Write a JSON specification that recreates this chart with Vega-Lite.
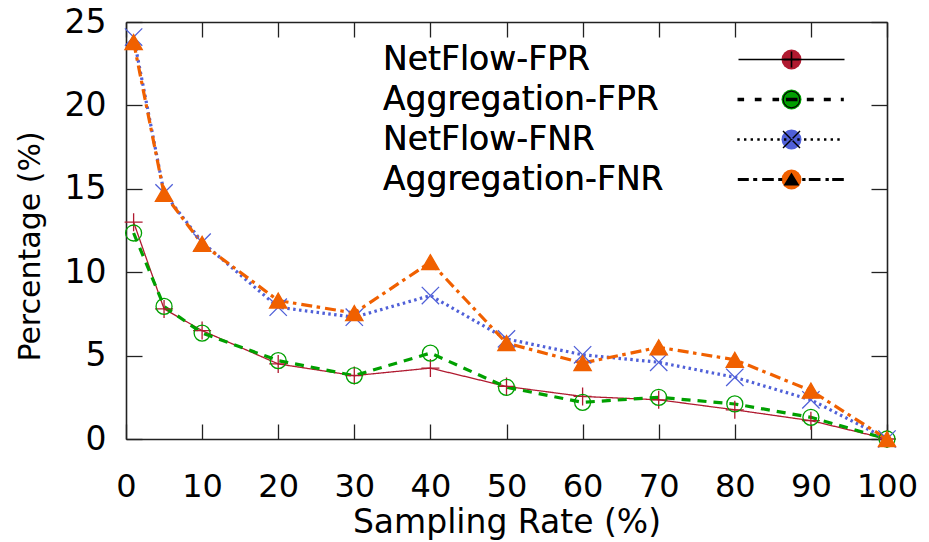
{
  "$schema": "https://vega.github.io/schema/vega-lite/v6.json",
  "width": 761,
  "height": 417,
  "autosize": {"type": "none"},
  "padding": {"left": 126, "top": 22, "right": 42, "bottom": 103},
  "background": "white",
  "config": {
    "view": {"stroke": null},
    "font": "DejaVu Sans",
    "axis": {
      "grid": false,
      "domainColor": "#222222",
      "domainWidth": 1.6,
      "tickColor": "#222222",
      "tickWidth": 1.3,
      "labelFont": "DejaVu Sans",
      "labelFontSize": 32,
      "labelColor": "#000000",
      "titleFont": "DejaVu Sans",
      "titleFontSize": 33,
      "titleFontWeight": "normal",
      "titleColor": "#000000",
      "labelFlush": false,
      "labelOverlap": false
    }
  },
  "data": {
    "values": [
      {"rate": 1, "series": "NetFlow-FPR", "value": 13.0},
      {"rate": 5, "series": "NetFlow-FPR", "value": 7.8},
      {"rate": 10, "series": "NetFlow-FPR", "value": 6.5},
      {"rate": 20, "series": "NetFlow-FPR", "value": 4.5},
      {"rate": 30, "series": "NetFlow-FPR", "value": 3.8},
      {"rate": 40, "series": "NetFlow-FPR", "value": 4.25},
      {"rate": 50, "series": "NetFlow-FPR", "value": 3.15},
      {"rate": 60, "series": "NetFlow-FPR", "value": 2.55},
      {"rate": 70, "series": "NetFlow-FPR", "value": 2.35},
      {"rate": 80, "series": "NetFlow-FPR", "value": 1.75},
      {"rate": 90, "series": "NetFlow-FPR", "value": 1.1},
      {"rate": 100, "series": "NetFlow-FPR", "value": 0},
      {"rate": 1, "series": "Aggregation-FPR", "value": 12.35},
      {"rate": 5, "series": "Aggregation-FPR", "value": 7.95},
      {"rate": 10, "series": "Aggregation-FPR", "value": 6.35},
      {"rate": 20, "series": "Aggregation-FPR", "value": 4.7},
      {"rate": 30, "series": "Aggregation-FPR", "value": 3.8},
      {"rate": 40, "series": "Aggregation-FPR", "value": 5.15},
      {"rate": 50, "series": "Aggregation-FPR", "value": 3.1},
      {"rate": 60, "series": "Aggregation-FPR", "value": 2.2},
      {"rate": 70, "series": "Aggregation-FPR", "value": 2.5},
      {"rate": 80, "series": "Aggregation-FPR", "value": 2.1},
      {"rate": 90, "series": "Aggregation-FPR", "value": 1.3},
      {"rate": 100, "series": "Aggregation-FPR", "value": 0},
      {"rate": 1, "series": "NetFlow-FNR", "value": 24.1},
      {"rate": 5, "series": "NetFlow-FNR", "value": 14.75},
      {"rate": 10, "series": "NetFlow-FNR", "value": 11.8},
      {"rate": 20, "series": "NetFlow-FNR", "value": 7.9},
      {"rate": 30, "series": "NetFlow-FNR", "value": 7.3},
      {"rate": 40, "series": "NetFlow-FNR", "value": 8.6},
      {"rate": 50, "series": "NetFlow-FNR", "value": 6.0},
      {"rate": 60, "series": "NetFlow-FNR", "value": 5.05},
      {"rate": 70, "series": "NetFlow-FNR", "value": 4.6},
      {"rate": 80, "series": "NetFlow-FNR", "value": 3.7},
      {"rate": 90, "series": "NetFlow-FNR", "value": 2.35},
      {"rate": 100, "series": "NetFlow-FNR", "value": 0},
      {"rate": 1, "series": "Aggregation-FNR", "value": 23.8},
      {"rate": 5, "series": "Aggregation-FNR", "value": 14.7},
      {"rate": 10, "series": "Aggregation-FNR", "value": 11.7},
      {"rate": 20, "series": "Aggregation-FNR", "value": 8.3},
      {"rate": 30, "series": "Aggregation-FNR", "value": 7.55},
      {"rate": 40, "series": "Aggregation-FNR", "value": 10.6},
      {"rate": 50, "series": "Aggregation-FNR", "value": 5.75},
      {"rate": 60, "series": "Aggregation-FNR", "value": 4.55},
      {"rate": 70, "series": "Aggregation-FNR", "value": 5.5},
      {"rate": 80, "series": "Aggregation-FNR", "value": 4.75},
      {"rate": 90, "series": "Aggregation-FNR", "value": 2.9},
      {"rate": 100, "series": "Aggregation-FNR", "value": 0}
    ]
  },
  "layer": [
    {
      "mark": {"type": "line", "strokeCap": "butt"},
      "encoding": {
        "x": {
          "field": "rate", "type": "quantitative",
          "scale": {"domain": [0, 100], "nice": false, "zero": false},
          "axis": {
            "orient": "bottom",
            "values": [0, 10, 20, 30, 40, 50, 60, 70, 80, 90, 100],
            "tickSize": -15,
            "labelPadding": 47,
            "title": "Sampling Rate (%)",
            "titleBaseline": "alphabetic",
            "titleAnchor": "middle",
            "titleY": 93
          }
        },
        "y": {
          "field": "value", "type": "quantitative",
          "scale": {"domain": [0, 25], "nice": false},
          "axis": {
            "orient": "left",
            "values": [0, 5, 10, 15, 20, 25],
            "tickSize": -16,
            "labelPadding": 36,
            "labelBaseline": "middle",
            "labelFontSize": 33,
            "title": "Percentage (%)",
            "titleFontSize": 30,
            "titleAngle": 270,
            "titleBaseline": "middle",
            "titleAlign": "center",
            "titleX": -96,
            "titleY": 224
          }
        },
        "stroke": {
          "field": "series", "type": "nominal",
          "scale": {"range": ["#f06000", "#00a000", "#5060d8", "#b01a30"]},
          "legend": null
        },
        "strokeDash": {
          "field": "series", "type": "nominal",
          "scale": {"range": [[11, 4.5, 3.5, 5], [9, 7], [2.5, 3.4], [1, 0]]},
          "legend": null
        },
        "strokeWidth": {
          "field": "series", "type": "nominal",
          "scale": {"type": "ordinal", "range": [3.2, 3.2, 3.2, 1.3]},
          "legend": null
        }
      }
    },
    {
      "mark": {"type": "point", "strokeWidth": 1.3, "opacity": 1},
      "encoding": {
        "x": {
          "field": "rate", "type": "quantitative",
          "axis": {
            "orient": "top",
            "values": [0, 10, 20, 30, 40, 50, 60, 70, 80, 90, 100],
            "tickSize": -15,
            "labels": false,
            "title": null
          }
        },
        "y": {
          "field": "value", "type": "quantitative",
          "axis": {
            "orient": "right",
            "values": [0, 5, 10, 15, 20, 25],
            "tickSize": -16,
            "labels": false,
            "title": null
          }
        },
        "stroke": {
          "field": "series", "type": "nominal",
          "legend": null
        },
        "fill": {
          "field": "series", "type": "nominal",
          "scale": {"range": ["#f06000", "transparent", "transparent", "transparent"]},
          "legend": null
        },
        "size": {
          "field": "series", "type": "nominal",
          "scale": {"type": "ordinal", "range": [300, 256, 300, 324]},
          "legend": null
        },
        "shape": {
          "field": "series", "type": "nominal",
          "scale": {"range": ["triangle-up", "circle", "M-1,-1L1,1M-1,1L1,-1", "M-1,0H1M0,-1V1"]},
          "legend": null
        }
      }
    },
    {
      "mark": {"type": "point", "filled": true, "opacity": 0, "size": 400, "stroke": "transparent", "strokeWidth": 0},
      "encoding": {
        "x": {"field": "rate", "type": "quantitative", "axis": null},
        "y": {"field": "value", "type": "quantitative", "axis": null},
        "color": {
          "field": "series", "type": "nominal",
          "scale": {"domain": ["NetFlow-FPR", "Aggregation-FPR", "NetFlow-FNR", "Aggregation-FNR"], "range": ["#b01a30", "#00a000", "#5060d8", "#f06000"]},
          "legend": {
            "title": null,
            "orient": "none",
            "legendX": 649,
            "legendY": 21,
            "padding": 0,
            "labelFont": "DejaVu Sans",
            "labelFontSize": 33,
            "labelColor": "#000000",
            "labelLimit": 600,
            "symbolSize": 400,
            "symbolOpacity": 1,
            "symbolStrokeWidth": 0,
            "symbolStrokeColor": "transparent",
            "rowPadding": 6,
            "labelAlign": "left",
            "labelOffset": -425
          }
        },
        "shape": {
          "field": "series", "type": "nominal",
          "scale": {"domain": ["NetFlow-FPR", "Aggregation-FPR", "NetFlow-FNR", "Aggregation-FNR"], "range": [
            "M-5.3,-0.07H5.3V0.07H-5.3Z M-0.8,-0.09H0.8V0.09H-0.8Z M-0.08,-0.8H0.08V0.8H-0.08Z",
            "M-5.4,-0.17H-4.74V0.17H-5.4Z M-3.67,-0.17H-3V0.17H-3.67Z M-1.9,-0.17H-1.24V0.17H-1.9Z M-0.55,-0.17H0.6V0.17H-0.55Z M1.53,-0.17H2.23V0.17H1.53Z M3.23,-0.17H3.93V0.17H3.23Z M4.93,-0.17H5.23V0.17H4.93Z M0.9,0L0.78,0.45L0.45,0.78L0,0.9L-0.45,0.78L-0.78,0.45L-0.9,0L-0.78,-0.45L-0.45,-0.78L0,-0.9L0.45,-0.78L0.78,-0.45Z M0.78,0L0.675,-0.39L0.39,-0.675L0,-0.78L-0.39,-0.675L-0.675,-0.39L-0.78,0L-0.675,0.39L-0.39,0.675L0,0.78L0.39,0.675L0.675,0.39Z",
            "M-5.42,-0.12h0.24v0.24h-0.24Z M-4.75,-0.12h0.24v0.24h-0.24Z M-4.09,-0.12h0.24v0.24h-0.24Z M-3.42,-0.12h0.24v0.24h-0.24Z M-2.75,-0.12h0.24v0.24h-0.24Z M-2.09,-0.12h0.24v0.24h-0.24Z M-1.42,-0.12h0.24v0.24h-0.24Z M-0.75,-0.12h0.24v0.24h-0.24Z M-0.09,-0.12h0.24v0.24h-0.24Z M0.58,-0.12h0.24v0.24h-0.24Z M1.25,-0.12h0.24v0.24h-0.24Z M1.91,-0.12h0.24v0.24h-0.24Z M2.58,-0.12h0.24v0.24h-0.24Z M3.25,-0.12h0.24v0.24h-0.24Z M3.91,-0.12h0.24v0.24h-0.24Z M4.58,-0.12h0.24v0.24h-0.24Z M-0.9,-0.8L0.8,0.9L0.9,0.8L-0.8,-0.9Z M-0.9,0.8L-0.8,0.9L0.9,-0.8L0.8,-0.9Z",
            "M-5.37,-0.15H-4.27V0.15H-5.37Z M-3.83,-0.15H-3.43V0.15H-3.83Z M-2.93,-0.15H-1.77V0.15H-2.93Z M-1.33,-0.15H-0.93V0.15H-1.33Z M1.07,-0.15H1.4V0.15H1.07Z M1.73,-0.15H2.9V0.15H1.73Z M3.4,-0.15H3.73V0.15H3.4Z M4.07,-0.15H5.23V0.15H4.07Z M0,-0.7L0.8,0.6L-0.8,0.6Z"
          ]},
          "legend": {
            "title": null,
            "orient": "none",
            "legendX": 649,
            "legendY": 21,
            "padding": 0,
            "labelFont": "DejaVu Sans",
            "labelFontSize": 33,
            "labelColor": "#000000",
            "labelLimit": 600,
            "symbolSize": 400,
            "symbolOpacity": 1,
            "symbolStrokeWidth": 0,
            "symbolStrokeColor": "transparent",
            "rowPadding": 6,
            "labelAlign": "left",
            "labelOffset": -425
          }
        }
      }
    }
  ],
  "resolve": {"axis": {"x": "independent", "y": "independent"}, "scale": {"shape": "independent"}}
}
